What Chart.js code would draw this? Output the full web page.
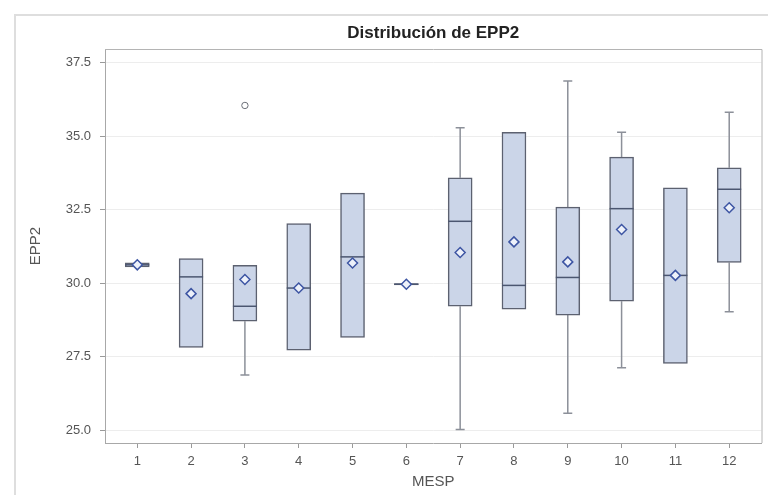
<!DOCTYPE html>
<html><head><meta charset="utf-8">
<script src="https://cdn.jsdelivr.net/npm/chart.js@4.4.0/dist/chart.umd.min.js"></script>
<style>html,body{margin:0;padding:0;background:#fff}#wrap{width:768px;height:495px;position:relative}</style>
</head><body><div id="wrap"><canvas id="c" width="768" height="495"></canvas></div>
<script>
const chartTitle = 'Distribución de EPP2';
const xAxisTitle = 'MESP';
const yAxisTitle = 'EPP2';
const categories   = [1,2,3,4,5,6,7,8,9,10,11,12];
const q1Values     = [30.55,27.81,28.70,27.72,28.15,29.94,29.21,29.11,28.91,29.38,27.27,30.70];
const q3Values     = [30.69,30.83,30.60,32.02,33.06,29.98,33.58,35.13,32.58,34.28,33.24,33.92];
const medianValues = [30.62,30.21,29.21,29.83,30.89,29.96,32.10,29.92,30.19,32.53,30.26,33.19];
const meanValues   = [30.62,29.64,30.12,29.83,30.68,29.96,31.04,31.40,30.72,31.82,30.26,32.56];
const minValues    = [30.55,27.81,26.87,27.72,28.15,29.94,25.02,29.11,25.57,27.12,27.27,29.02];
const maxValues    = [30.69,30.83,30.60,32.02,33.06,29.98,35.28,35.13,36.87,35.13,33.24,35.81];
const outlierCategories = [3];
const outlierValues     = [36.04];
const yTickValues = [25,27.5,30,32.5,35,37.5];
const xTickValues = categories;

const FONT = '"Liberation Sans", Arial, sans-serif';
Chart.defaults.font.family = FONT;

const boxPlugin = {
  id: 'boxExtras',
  beforeDraw(chart) {
    const ctx = chart.ctx;
    ctx.save();
    ctx.strokeStyle = '#dedede';
    ctx.lineWidth = 2;
    ctx.beginPath();
    ctx.moveTo(15, 495); ctx.lineTo(15, 15); ctx.lineTo(768, 15);
    ctx.stroke();
    ctx.restore();
  },
  beforeDatasetsDraw(chart) {
    const ctx = chart.ctx, xs = chart.scales.x, ys = chart.scales.y;
    const ca = chart.chartArea;
    ctx.save();
    ctx.strokeStyle = '#b4b4b4';
    ctx.lineWidth = 1;
    ctx.beginPath();
    ctx.moveTo(ca.left, ca.top + 0.5); ctx.lineTo(ca.right + 0.5, ca.top + 0.5); ctx.lineTo(ca.right + 0.5, ca.bottom);
    ctx.stroke();
    ctx.strokeStyle = '#8c9099';
    ctx.lineWidth = 1.5;
    const cap = 4.5;
    categories.forEach((c, i) => {
      const x = xs.getPixelForValue(c);
      if (maxValues[i] > q3Values[i]) {
        const y0 = ys.getPixelForValue(q3Values[i]), y1 = ys.getPixelForValue(maxValues[i]);
        ctx.beginPath(); ctx.moveTo(x, y0); ctx.lineTo(x, y1);
        ctx.moveTo(x - cap, y1); ctx.lineTo(x + cap, y1); ctx.stroke();
      }
      if (minValues[i] < q1Values[i]) {
        const y0 = ys.getPixelForValue(q1Values[i]), y1 = ys.getPixelForValue(minValues[i]);
        ctx.beginPath(); ctx.moveTo(x, y0); ctx.lineTo(x, y1);
        ctx.moveTo(x - cap, y1); ctx.lineTo(x + cap, y1); ctx.stroke();
      }
    });
    ctx.restore();
  },
  afterDatasetDraw(chart, args) {
    if (args.index !== 0) return;
    const ctx = chart.ctx, ys = chart.scales.y;
    const meta = chart.getDatasetMeta(0);
    ctx.save();
    ctx.strokeStyle = '#4b5670';
    ctx.lineWidth = 1.5;
    meta.data.forEach((el, i) => {
      const y = ys.getPixelForValue(medianValues[i]);
      ctx.beginPath();
      ctx.moveTo(el.x - el.width / 2, y); ctx.lineTo(el.x + el.width / 2, y);
      ctx.stroke();
    });
    ctx.restore();
  },
  afterDraw(chart) {
    const ctx = chart.ctx, ca = chart.chartArea;
    ctx.save();
    ctx.fillStyle = '#222';
    ctx.font = 'bold 17px ' + FONT;
    ctx.textAlign = 'center';
    ctx.textBaseline = 'middle';
    ctx.fillText(chartTitle, (ca.left + ca.right) / 2, 33);
    ctx.restore();
  }
};

new Chart(document.getElementById('c'), {
  type: 'bar',
  data: {
    datasets: [
      {
        type: 'bar',
        data: categories.map((c, i) => ({ x: c, y: [q1Values[i], q3Values[i]] })),
        backgroundColor: '#cbd5e8',
        borderColor: '#5c6170',
        borderWidth: 1.5,
        borderSkipped: false,
        barThickness: 24,
        order: 3
      },
      {
        type: 'scatter',
        data: categories.map((c, i) => ({ x: c, y: meanValues[i] })),
        pointStyle: 'rectRot',
        pointRadius: 5,
        borderColor: '#3d55a3',
        backgroundColor: '#edf1fa',
        borderWidth: 1.5,
        order: 1
      },
      {
        type: 'scatter',
        data: outlierCategories.map((c, i) => ({ x: c, y: outlierValues[i] })),
        pointStyle: 'circle',
        pointRadius: 3.2,
        borderColor: '#6b6f78',
        backgroundColor: 'rgba(0,0,0,0)',
        borderWidth: 1,
        order: 0
      }
    ]
  },
  options: {
    responsive: false,
    animation: false,
    layout: { padding: { left: 0, right: 3, top: 49, bottom: 0 } },
    plugins: { legend: { display: false }, tooltip: { enabled: false }, title: { display: false } },
    scales: {
      x: {
        type: 'linear', min: 0.4, max: 12.6, offset: false,
        afterBuildTicks: s => { s.ticks = xTickValues.map(v => ({ value: v })); },
        afterFit: s => { s.height = 52; },
        grid: { drawOnChartArea: false, drawTicks: true, tickLength: 5, tickColor: '#9a9a9a', offset: false },
        border: { color: '#a8a8a8', width: 1 },
        ticks: { color: '#555', font: { size: 13 }, padding: 6, maxRotation: 0, autoSkip: false },
        title: { display: true, text: xAxisTitle, color: '#555', font: { size: 15 }, padding: { top: 0, bottom: 4 } }
      },
      y: {
        min: 24.56, max: 37.96,
        afterBuildTicks: s => { s.ticks = yTickValues.map(v => ({ value: v })); },
        afterFit: s => { s.width = 105; },
        grid: { color: '#ededed', tickLength: 5, tickColor: '#9a9a9a' },
        border: { color: '#a8a8a8', width: 1 },
        ticks: { color: '#555', font: { size: 13 }, padding: 9, callback: v => Number(v).toFixed(1) },
        title: { display: true, text: yAxisTitle, color: '#555', font: { size: 15 }, padding: { top: 27, bottom: 0 } }
      }
    }
  },
  plugins: [boxPlugin]
});
</script>
</body></html>
